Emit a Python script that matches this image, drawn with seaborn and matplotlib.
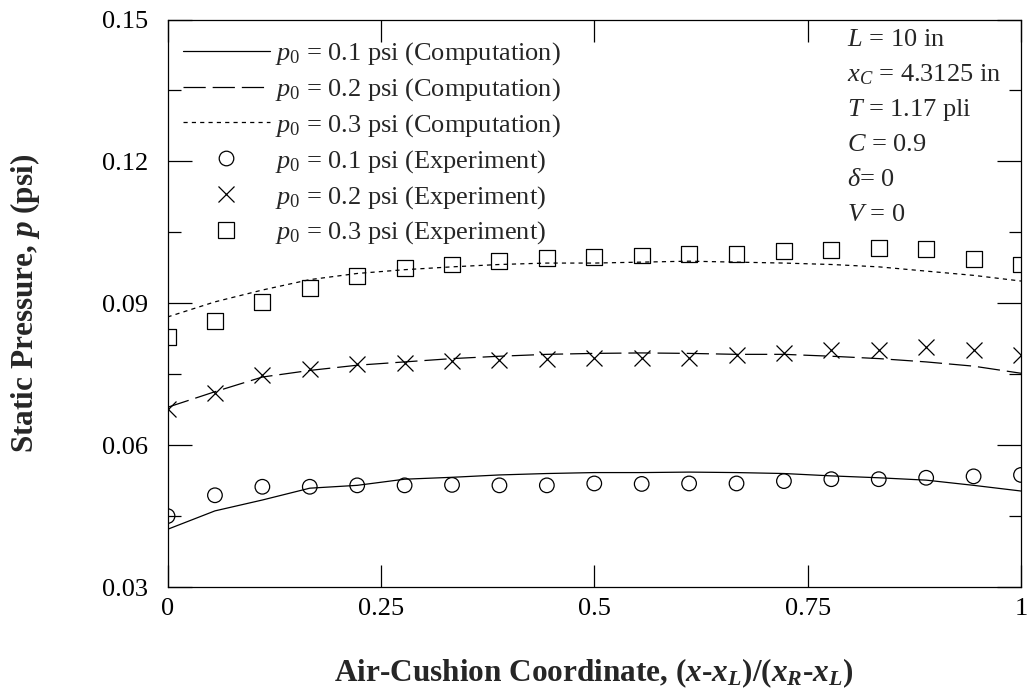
import numpy as np
import pandas as pd
import matplotlib
matplotlib.use("Agg")
import matplotlib.pyplot as plt
import seaborn as sns
from matplotlib.ticker import MultipleLocator
from matplotlib.lines import Line2D

# Normalised air-cushion coordinate (19 stations)
x_coord = [k / 18 for k in range(19)]

# Computed static pressure (psi)
comp_p01 = [0.0422, 0.0461, 0.0484, 0.0509, 0.0515, 0.0528, 0.0532, 0.0537, 0.0540,
            0.0542, 0.0542, 0.0543, 0.0542, 0.0540, 0.0535, 0.0531, 0.0526, 0.0515, 0.0503]
comp_p02 = [0.0680, 0.0713, 0.0744, 0.0758, 0.0769, 0.0776, 0.0783, 0.0788, 0.0792,
            0.0794, 0.0795, 0.0794, 0.0792, 0.0792, 0.0788, 0.0783, 0.0776, 0.0767, 0.0752]
comp_p03 = [0.0871, 0.0903, 0.0928, 0.0950, 0.0963, 0.0971, 0.0977, 0.0982, 0.0985,
            0.0985, 0.0987, 0.0989, 0.0987, 0.0985, 0.0982, 0.0977, 0.0968, 0.0959, 0.0947]

# Measured static pressure (psi)
exp_p01 = [0.0450, 0.0494, 0.0512, 0.0512, 0.0515, 0.0515, 0.0516, 0.0515, 0.0515,
           0.0519, 0.0518, 0.0519, 0.0519, 0.0524, 0.0528, 0.0528, 0.0531, 0.0534, 0.0537]
exp_p02 = [0.0676, 0.0711, 0.0748, 0.0762, 0.0771, 0.0774, 0.0778, 0.0780, 0.0783,
           0.0784, 0.0785, 0.0785, 0.0790, 0.0795, 0.0801, 0.0801, 0.0808, 0.0801, 0.0790]
exp_p03 = [0.0828, 0.0862, 0.0902, 0.0932, 0.0958, 0.0975, 0.0982, 0.0989, 0.0995,
           0.0998, 0.1001, 0.1004, 0.1005, 0.1010, 0.1012, 0.1016, 0.1014, 0.0994, 0.0982]

comp_labels = [r"$p_0$ = 0.1 psi (Computation)",
               r"$p_0$ = 0.2 psi (Computation)",
               r"$p_0$ = 0.3 psi (Computation)"]
exp_labels = [r"$p_0$ = 0.1 psi (Experiment)",
              r"$p_0$ = 0.2 psi (Experiment)",
              r"$p_0$ = 0.3 psi (Experiment)"]
params = [r"$L$ = 10 in", r"$x_C$ = 4.3125 in", r"$T$ = 1.17 pli",
          r"$C$ = 0.9", r"$\delta$= 0", r"$V$ = 0"]

x_ticks = [0, 0.25, 0.5, 0.75, 1]
x_ticklabels = ["0", "0.25", "0.5", "0.75", "1"]
y_ticks = [0.03, 0.06, 0.09, 0.12, 0.15]
y_ticklabels = ["0.03", "0.06", "0.09", "0.12", "0.15"]

sns.set_style("ticks")
plt.rcParams["font.family"] = ["Liberation Serif", "DejaVu Serif"]
plt.rcParams["mathtext.fontset"] = "custom"
plt.rcParams["mathtext.rm"] = "Liberation Serif"
plt.rcParams["mathtext.it"] = "Liberation Serif:italic"
plt.rcParams["mathtext.bf"] = "Liberation Serif:bold"
plt.rcParams["mathtext.bfit"] = "Liberation Serif:italic:bold"
plt.rcParams["lines.scale_dashes"] = False

comp = pd.DataFrame({
    "x": x_coord * 3,
    "p": comp_p01 + comp_p02 + comp_p03,
    "case": [comp_labels[0]] * 19 + [comp_labels[1]] * 19 + [comp_labels[2]] * 19,
})
expt = pd.DataFrame({
    "x": x_coord * 3,
    "p": exp_p01 + exp_p02 + exp_p03,
    "case": [exp_labels[0]] * 19 + [exp_labels[1]] * 19 + [exp_labels[2]] * 19,
})

fig = plt.figure(figsize=(10.31, 6.92), dpi=100)
ax = fig.add_axes([0.1625, 0.1517, 0.8278, 0.8201])

line_dashes = {comp_labels[0]: "", comp_labels[1]: (16, 5), comp_labels[2]: (3, 3)}
sns.lineplot(data=comp, x="x", y="p", style="case", dashes=line_dashes,
             color="black", linewidth=0.9, ax=ax, legend=False, sort=False)

exp_markers = {exp_labels[0]: "o", exp_labels[1]: "x", exp_labels[2]: "s"}
exp_sizes = {exp_labels[0]: 10.5, exp_labels[1]: 11.5, exp_labels[2]: 11.5}
for lab in exp_labels:
    sub = expt[expt["case"] == lab]
    m = exp_markers[lab]
    if m == "x":
        sns.scatterplot(data=sub, x="x", y="p", marker=m, s=exp_sizes[lab] ** 2,
                        color="black", linewidth=0.9, ax=ax, legend=False, zorder=3)
    else:
        sns.scatterplot(data=sub, x="x", y="p", marker=m, s=exp_sizes[lab] ** 2,
                        facecolor="none", edgecolor="black", linewidth=0.9,
                        ax=ax, legend=False, zorder=3)

ax.set_xlim(0, 1)
ax.set_ylim(0.03, 0.15)
ax.set_xticks(x_ticks)
ax.set_xticklabels(x_ticklabels)
ax.set_yticks(y_ticks)
ax.set_yticklabels(y_ticklabels)
ax.yaxis.set_minor_locator(MultipleLocator(0.015))
ax.tick_params(which="both", direction="in", top=True, right=True, colors="black",
               labelsize=19, width=0.9)
ax.tick_params(axis="x", which="major", length=16, pad=8)
ax.tick_params(axis="y", which="major", length=17, pad=14)
ax.tick_params(axis="y", which="minor", length=9)
for s in ax.spines.values():
    s.set_color("black")
    s.set_linewidth(0.9)

ax.set_xlabel(r"Air-Cushion Coordinate, ($\mathbfit{x}$-$\mathbfit{x}_\mathbfit{L}$)/($\mathbfit{x}_\mathbfit{R}$-$\mathbfit{x}_\mathbfit{L}$)",
              fontsize=22.5, fontweight="bold", labelpad=26)
ax.set_ylabel(r"Static Pressure, $\mathbfit{p}$ (psi)", fontsize=22.5,
              fontweight="bold", labelpad=43)

handles = [
    Line2D([], [], color="black", lw=0.9, linestyle="-"),
    Line2D([], [], color="black", lw=0.9, linestyle=(0, (16, 5))),
    Line2D([], [], color="black", lw=0.9, linestyle=(0, (3, 3))),
    Line2D([], [], color="black", lw=0, marker="o", markersize=10.5,
           markerfacecolor="none", markeredgewidth=0.9),
    Line2D([], [], color="black", lw=0, marker="x", markersize=11.5,
           markeredgewidth=0.9),
    Line2D([], [], color="black", lw=0, marker="s", markersize=11.5,
           markerfacecolor="none", markeredgewidth=0.9),
]
ax.legend(handles, comp_labels + exp_labels, loc="upper left",
          bbox_to_anchor=(0.018, 0.963), frameon=False, fontsize=19,
          handlelength=3.3, handletextpad=0.2, labelspacing=0.34, borderpad=0,
          borderaxespad=0)

for i, t in enumerate(params):
    ax.text(0.796, 0.964 - i * 0.0617, t, transform=ax.transAxes, fontsize=19,
            ha="left", va="center")

fig.savefig("out.png", dpi=100)
